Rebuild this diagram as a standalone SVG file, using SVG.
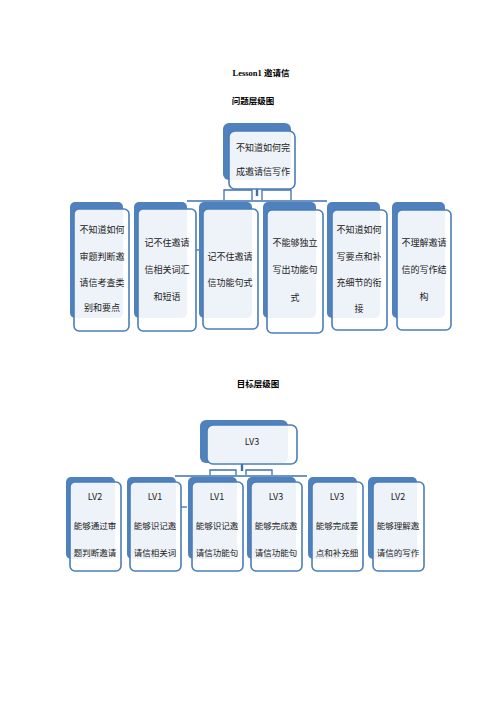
<svg xmlns="http://www.w3.org/2000/svg" width="496" height="702" viewBox="0 0 496 702">
<style>
.back{fill:#4f81bd}
.front{fill:#ffffff;fill-opacity:0.9;stroke:#4a7ebb;stroke-width:1.6}
.t{font-family:"Noto Sans CJK SC","Noto Sans",sans-serif;font-size:9px;fill:#222;text-anchor:middle}
.t2{font-family:"Noto Sans CJK SC","Noto Sans",sans-serif;font-size:8.5px;fill:#222;text-anchor:middle}
.title{font-family:"Liberation Serif","Noto Sans CJK SC",serif;font-size:8.5px;font-weight:bold;fill:#000;text-anchor:middle}
.c{fill:none;stroke:#3f6fae;stroke-width:1.3}
.stem{fill:none;stroke:#3f6fae;stroke-width:2.4}
</style>
<rect width="496" height="702" fill="#fff"/>
<text class="title" x="261" y="76">Lesson1 邀请信</text>
<text class="title" x="253" y="104">问题层级图</text>
<text class="title" x="258" y="387">目标层级图</text>

<g id="connectors">
<line class="c" x1="187" y1="201" x2="327" y2="201"/>
<path class="c" d="M224 200 V190 H252 V200 M262 200 V190 H291 V200"/>
<line class="stem" x1="257" y1="188" x2="257" y2="196"/>
<line class="c" x1="194" y1="250" x2="200" y2="250"/>
<line class="c" x1="175" y1="476" x2="307" y2="476"/>
<path class="c" d="M210 475 V470 H236 V475 M246 475 V470 H272 V475"/>
<line class="stem" x1="242" y1="464" x2="242" y2="471"/>
<line class="c" x1="181" y1="507" x2="187" y2="507"/>
</g>

<g id="p0">
<rect class="back" x="223" y="123" width="68" height="57" rx="6"/>
<rect class="front" x="229" y="131" width="66" height="58" rx="6"/>
<text class="t" x="263" y="151">不知道如何完</text>
<text class="t" x="263" y="175">成邀请信写作</text>
</g>

<g id="p1">
<rect class="back" x="70" y="202" width="53" height="116" rx="5"/>
<rect class="front" x="74" y="209" width="55" height="122" rx="5"/>
<text class="t" x="102" y="233">不知道如何</text>
<text class="t" x="102" y="260">审题判断邀</text>
<text class="t" x="102" y="286">请信考查类</text>
<text class="t" x="102" y="311">别和要点</text>
</g>
<g id="p2">
<rect class="back" x="134" y="202" width="53" height="116" rx="5"/>
<rect class="front" x="138" y="209" width="58" height="122" rx="5"/>
<text class="t" x="167" y="246">记不住邀请</text>
<text class="t" x="167" y="273">信相关词汇</text>
<text class="t" x="167" y="300">和短语</text>
</g>
<g id="p3">
<rect class="back" x="199" y="202" width="53" height="116" rx="5"/>
<rect class="front" x="203" y="209" width="55" height="120" rx="5"/>
<text class="t" x="230" y="260">记不住邀请</text>
<text class="t" x="230" y="286">信功能句式</text>
</g>
<g id="p4">
<rect class="back" x="263" y="202" width="53" height="116" rx="5"/>
<rect class="front" x="267" y="210" width="56" height="123" rx="5"/>
<text class="t" x="295" y="246">不能够独立</text>
<text class="t" x="295" y="273">写出功能句</text>
<text class="t" x="295" y="301">式</text>
</g>
<g id="p5">
<rect class="back" x="327" y="202" width="53" height="116" rx="5"/>
<rect class="front" x="332" y="210" width="55" height="120" rx="5"/>
<text class="t" x="359" y="233">不知道如何</text>
<text class="t" x="359" y="260">写要点和补</text>
<text class="t" x="359" y="286">充细节的衔</text>
<text class="t" x="359" y="312">接</text>
</g>
<g id="p6">
<rect class="back" x="392" y="202" width="53" height="116" rx="5"/>
<rect class="front" x="397" y="210" width="54" height="120" rx="5"/>
<text class="t" x="424" y="246">不理解邀请</text>
<text class="t" x="424" y="273">信的写作结</text>
<text class="t" x="424" y="300">构</text>
</g>

<g id="g0">
<rect class="back" x="200" y="420" width="88" height="43" rx="6"/>
<rect class="front" x="207" y="425" width="90" height="39" rx="6"/>
<text class="t" x="252" y="445">LV3</text>
</g>

<g id="g1">
<rect class="back" x="66" y="477" width="49" height="82" rx="5"/>
<rect class="front" x="70" y="482" width="51" height="89" rx="5"/>
<text class="t" x="95" y="500">LV2</text>
<text class="t2" x="95" y="529">能够通过审</text>
<text class="t2" x="95" y="556">题判断邀请</text>
</g>
<g id="g2">
<rect class="back" x="127" y="477" width="49" height="82" rx="5"/>
<rect class="front" x="130" y="482" width="51" height="89" rx="5"/>
<text class="t" x="155" y="500">LV1</text>
<text class="t2" x="155" y="529">能够识记邀</text>
<text class="t2" x="155" y="556">请信相关词</text>
</g>
<g id="g3">
<rect class="back" x="188" y="477" width="49" height="82" rx="5"/>
<rect class="front" x="192" y="482" width="51" height="89" rx="5"/>
<text class="t" x="217" y="500">LV1</text>
<text class="t2" x="217" y="529">能够识记邀</text>
<text class="t2" x="217" y="556">请信功能句</text>
</g>
<g id="g4">
<rect class="back" x="247" y="477" width="49" height="82" rx="5"/>
<rect class="front" x="251" y="482" width="51" height="89" rx="5"/>
<text class="t" x="276" y="500">LV3</text>
<text class="t2" x="276" y="529">能够完成邀</text>
<text class="t2" x="276" y="556">请信功能句</text>
</g>
<g id="g5">
<rect class="back" x="308" y="477" width="49" height="82" rx="5"/>
<rect class="front" x="312" y="482" width="51" height="89" rx="5"/>
<text class="t" x="337" y="500">LV3</text>
<text class="t2" x="337" y="529">能够完成要</text>
<text class="t2" x="337" y="556">点和补充细</text>
</g>
<g id="g6">
<rect class="back" x="368" y="477" width="49" height="82" rx="5"/>
<rect class="front" x="373" y="482" width="51" height="89" rx="5"/>
<text class="t" x="398" y="500">LV2</text>
<text class="t2" x="398" y="529">能够理解邀</text>
<text class="t2" x="398" y="556">请信的写作</text>
</g>
</svg>
